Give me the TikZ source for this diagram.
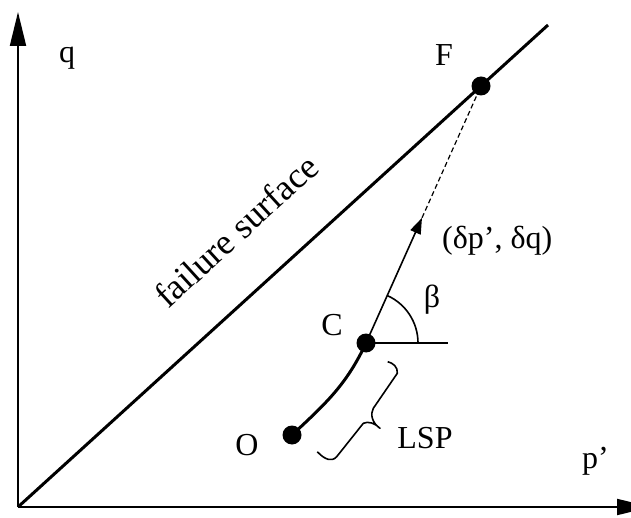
\documentclass[tikz,border=0pt]{standalone}
\usepackage{fontspec}
\setmainfont{Liberation Serif}
\usetikzlibrary{arrows.meta,calc}
\begin{document}
\begin{tikzpicture}[x=1pt,y=1pt,
  lbl/.style={inner sep=0pt,font=\fontsize{32}{38}\selectfont},
  dotp/.style={circle,fill=black,inner sep=0pt,minimum size=19pt},
  axis/.style={line width=2pt,-{Triangle[length=34pt,width=16pt]}},
  thin1/.style={line width=1.6pt}]
\useasboundingbox (0,0) rectangle (631,517);
\coordinate (org) at (18,10);
\coordinate (ytip) at (18,505);
\coordinate (xtip) at (651,10);
\coordinate (fend) at (548,492);
\coordinate (hend) at (448,174);
\coordinate (bT) at (387.7,155.3);
\coordinate (bS1) at (397.3,143.7);
\coordinate (bS2) at (373.3,108.7);
\coordinate (bP) at (380,88.7);
\coordinate (bQ1) at (363.3,93.7);
\coordinate (bQ2) at (336.7,60.3);
\coordinate (bB) at (317.3,65.3);
% axes
\draw[axis] (org) -- (ytip);
\draw[axis] (org) -- (xtip);
% failure line
\draw[line width=3pt] (org) -- (fend);
% points
\node[dotp] (F) at (481,431) {};
\node[dotp] (C) at (366,174) {};
\node[dotp] (O) at (292,82) {};
% path O-C
\draw[line width=3pt] (O.center) to[out=43,in=245] (C.center);
% direction arrow
\coordinate (atip) at ($(C.center)!0.487!(F.center)$);
\draw[thin1,-{Triangle[length=16pt,width=11pt]}] (C.center) -- (atip);
\draw[line width=1.2pt,dash pattern=on 5pt off 3pt] (atip) -- (F.center);
% horizontal and angle
\draw[thin1] (C.center) -- (hend);
\draw[thin1] ($(C.center)+(52,0)$) arc[start angle=0,end angle=65.9,radius=52];
% brace
\draw[thin1,line join=round] (bT) .. controls (393,154) and (398,150) .. (bS1) -- (bS2)
  .. controls (370,103) and (372,94) .. (bP)
  .. controls (375,94) and (368,96) .. (bQ1) -- (bQ2)
  .. controls (332,55) and (325,57) .. (bB);
% labels
\node[lbl,anchor=base] (lq) at (67,454) {q};
\node[lbl,anchor=base] (lF) at (444,451) {F};
\node[lbl,anchor=base] (lC) at (332,182) {C};
\node[lbl,anchor=base] (lb) at (432,209) {β};
\node[lbl,anchor=base west] (ld) at (442,268) {(δp’, δq)};
\node[lbl,anchor=base] (lL) at (425,69) {LSP};
\node[lbl,anchor=base] (lO) at (247,62) {O};
\node[lbl,anchor=base west] (lp) at (582,49) {p’};
\node[lbl,anchor=base,rotate=42.4,font=\fontsize{36}{42}\selectfont] (lfs) at (244.5,277) {failure surface};
\end{tikzpicture}
\end{document}
